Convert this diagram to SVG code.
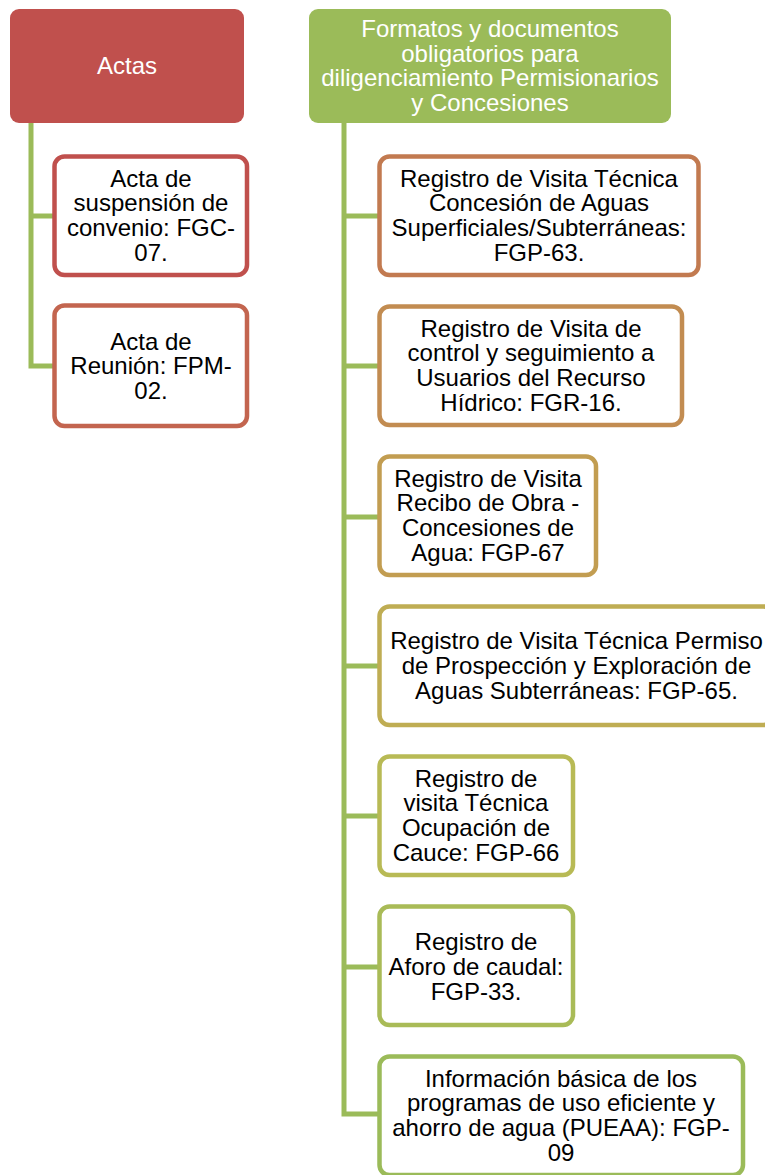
<svg xmlns="http://www.w3.org/2000/svg" width="765" height="1175" viewBox="0 0 765 1175">
<style>
text{font-family:"Liberation Sans",Arial,sans-serif;font-size:24px;text-anchor:middle}
.hd{fill:#fff}
.bx{fill:#fff;stroke-width:4.5}
.tx{fill:#000}
.cn{stroke:#9BBB59;stroke-width:5;fill:none}
</style>
<rect width="765" height="1175" fill="#fff"/>
<g id="connectors">
<path class="cn" d="M31 123 V366 H54 M31 216 H54"/>
<path class="cn" d="M344 123 V1114 H379 M344 216 H379 M344 366 H379 M344 517 H379 M344 666 H379 M344 816 H379 M344 967 H379"/>
</g>
<g id="actas">
<rect x="10" y="9" width="234" height="114" rx="9" fill="#C0504D"/>
<text class="hd" x="127" y="74">Actas</text>
</g>
<g id="formatos">
<rect x="309" y="9" width="362" height="114" rx="9" fill="#9BBB59"/>
<text class="hd" x="490" y="37">Formatos y documentos</text>
<text class="hd" x="490" y="61.7">obligatorios para</text>
<text class="hd" x="490" y="86.4">diligenciamiento Permisionarios</text>
<text class="hd" x="490" y="111">y Concesiones</text>
</g>
<g id="acta-suspension">
<rect class="bx" x="54.5" y="156.5" width="192.5" height="118.5" rx="10" stroke="#C0504D"/>
<text class="tx" x="151" y="186.7">Acta de</text>
<text class="tx" x="151" y="211.4">suspensión de</text>
<text class="tx" x="151" y="236.1">convenio: FGC-</text>
<text class="tx" x="151" y="260.8">07.</text>
</g>
<g id="acta-reunion">
<rect class="bx" x="54.5" y="305.5" width="192.5" height="120.5" rx="10" stroke="#C3654F"/>
<text class="tx" x="151" y="349.5">Acta de</text>
<text class="tx" x="151" y="374.2">Reunión: FPM-</text>
<text class="tx" x="151" y="398.9">02.</text>
</g>
<g id="fgp63">
<rect class="bx" x="379.5" y="156.5" width="319" height="118.5" rx="10" stroke="#C27A50"/>
<text class="tx" x="539" y="186.7">Registro de Visita Técnica</text>
<text class="tx" x="539" y="211.4">Concesión de Aguas</text>
<text class="tx" x="539" y="236.1">Superficiales/Subterráneas:</text>
<text class="tx" x="539" y="260.8">FGP-63.</text>
</g>
<g id="fgr16">
<rect class="bx" x="379.5" y="306.5" width="302.5" height="118.5" rx="10" stroke="#C28C51"/>
<text class="tx" x="531" y="336.7">Registro de Visita de</text>
<text class="tx" x="531" y="361.4">control y seguimiento a</text>
<text class="tx" x="531" y="386.1">Usuarios del Recurso</text>
<text class="tx" x="531" y="410.8">Hídrico: FGR-16.</text>
</g>
<g id="fgp67">
<rect class="bx" x="379.5" y="456.5" width="216.5" height="118.5" rx="10" stroke="#C29D51"/>
<text class="tx" x="488" y="486.7">Registro de Visita</text>
<text class="tx" x="488" y="511.4">Recibo de Obra -</text>
<text class="tx" x="488" y="536.1">Concesiones de</text>
<text class="tx" x="488" y="560.8">Agua: FGP-67</text>
</g>
<g id="fgp65">
<rect class="bx" x="379.5" y="606.5" width="394" height="118.5" rx="10" stroke="#BFAD53"/>
<text class="tx" x="576.5" y="649.4">Registro de Visita Técnica Permiso</text>
<text class="tx" x="576.5" y="674.1">de Prospección y Exploración de</text>
<text class="tx" x="576.5" y="698.8">Aguas Subterráneas: FGP-65.</text>
</g>
<g id="fgp66">
<rect class="bx" x="379.5" y="756.5" width="193.5" height="118.5" rx="10" stroke="#B8BA55"/>
<text class="tx" x="476" y="786.7">Registro de</text>
<text class="tx" x="476" y="811.4">visita Técnica</text>
<text class="tx" x="476" y="836.1">Ocupación de</text>
<text class="tx" x="476" y="860.8">Cauce: FGP-66</text>
</g>
<g id="fgp33">
<rect class="bx" x="379.5" y="906.5" width="193.5" height="118.5" rx="10" stroke="#A9BB57"/>
<text class="tx" x="476" y="950.4">Registro de</text>
<text class="tx" x="476" y="975.1">Aforo de caudal:</text>
<text class="tx" x="476" y="999.8">FGP-33.</text>
</g>
<g id="fgp09">
<rect class="bx" x="379.5" y="1056.5" width="363.5" height="118.5" rx="10" stroke="#9BBB59"/>
<text class="tx" x="561" y="1086.7">Información básica de los</text>
<text class="tx" x="561" y="1111.4">programas de uso eficiente y</text>
<text class="tx" x="561" y="1136.1">ahorro de agua (PUEAA): FGP-</text>
<text class="tx" x="561" y="1160.8">09</text>
</g>
</svg>
